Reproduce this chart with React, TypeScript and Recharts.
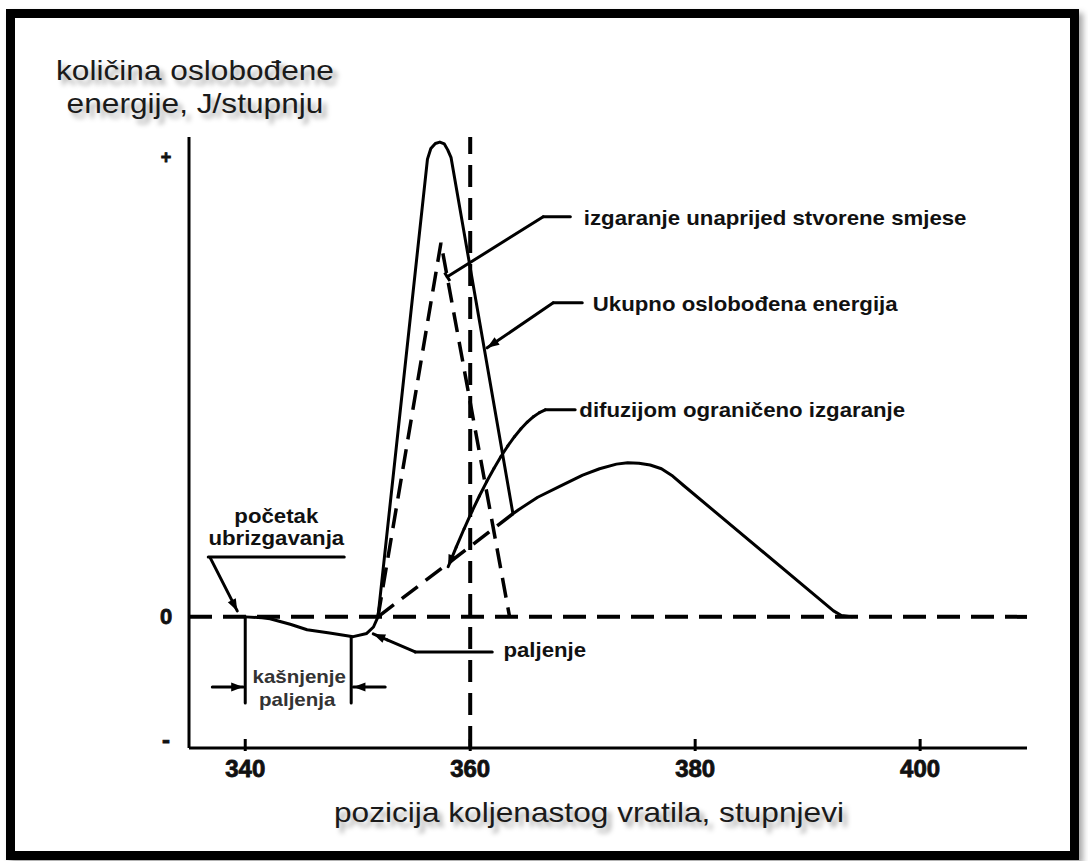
import React from 'react';
import { ComposedChart, Line, XAxis, YAxis, ReferenceLine, ReferenceDot } from 'recharts';

const FONT = '"Liberation Sans", Arial, Helvetica, sans-serif';
// the source picture is stretched sideways a little, so text gets the same stretch
const STRETCH = 1.14;

// crank angle ticks (degrees)
const xTicks = [340, 360, 380, 400];
// the y axis only shows the sign: -, 0, +
const yTicks = [-26.7, 0, 100];
const yTickText = ['-', '0', '+'];

// ukupno oslobođena energija (solid curve)
const totalX = [340, 341.5, 342.2, 344, 345.5, 347.5, 349.6, 350.8, 351.4, 351.8, 356.2, 356.5, 356.9, 357.3, 357.7, 358.0, 358.3, 363.8, 364.3, 366, 368, 370, 371.5, 373, 374, 375, 376, 377, 378, 379, 392.3, 393, 394];
const totalY = [0, -0.2, -0.4, -1.6, -2.8, -3.5, -4.3, -3.6, -2.2, 0, 99.5, 101.8, 102.9, 103.2, 102.8, 101.5, 99.8, 22.4, 23.3, 26.0, 28.4, 30.8, 32.2, 33.2, 33.5, 33.4, 33.0, 32.2, 30.6, 28.5, 1.3, 0.3, 0];

// izgaranje unaprijed stvorene smjese (dashed triangle)
const premixX = [351.8, 357.4, 363.5];
const premixY = [0, 81.3, 0];

// difuzijom ograničeno izgaranje (dashed ramp up to the notch)
const diffX = [351.8, 363.9];
const diffY = [0, 22.6];

const zip = (xs: number[], ys: number[]) => xs.map((x, i) => ({ x, y: ys[i] }));
const totalData = zip(totalX, totalY);
const premixData = zip(premixX, premixY);
const diffData = zip(diffX, diffY);

type Pt = [number, number];

function Leader(props: any) {
  const { x1, y1, x2, y2, end } = props;
  const dx = x2 - x1;
  const dy = y2 - y1;
  const len = Math.hypot(dx, dy) || 1;
  const ux = dx / len;
  const uy = dy / len;
  let head = null;
  if (end === 'arrow') {
    const hl = 12;
    const hw = 4.5;
    const bx = x2 - ux * hl;
    const by = y2 - uy * hl;
    head = (
      <polygon
        points={`${x2},${y2} ${bx - uy * hw},${by + ux * hw} ${bx + uy * hw},${by - ux * hw}`}
        fill="#000"
      />
    );
  } else if (end === 'tee') {
    head = <line x1={x2 - uy * 5} y1={y2 + ux * 5} x2={x2 + uy * 5} y2={y2 - ux * 5} stroke="#000" strokeWidth={3} />;
  }
  return (
    <g>
      <line x1={x1} y1={y1} x2={x2} y2={y2} stroke="#000" strokeWidth={3} strokeLinecap="round" />
      {head}
    </g>
  );
}

// a leader drawn as a polyline; only the last piece gets the end mark
function leader(key: string, pts: Pt[], end?: string) {
  return pts.slice(1).map((p, i) => (
    <ReferenceLine
      key={`${key}-${i}`}
      segment={[{ x: pts[i][0], y: pts[i][1] }, { x: p[0], y: p[1] }]}
      ifOverflow="visible"
      shape={(sp: any) => <Leader {...sp} end={i === pts.length - 2 ? end : undefined} />}
    />
  ));
}

// quadratic curve for a bent leader, split in short pieces
function bend(a: Pt, c: Pt, b: Pt, n = 14): Pt[] {
  const out: Pt[] = [];
  for (let i = 0; i <= n; i++) {
    const t = i / n;
    const u = 1 - t;
    out.push([u * u * a[0] + 2 * u * t * c[0] + t * t * b[0], u * u * a[1] + 2 * u * t * c[1] + t * t * b[1]]);
  }
  return out;
}

function note(key: string, x: number, y: number, text: string, opts: { anchor?: string; size?: number; weight?: number | string; fill?: string } = {}) {
  const { anchor = 'start', size = 19.5, weight = 700, fill = '#111' } = opts;
  return (
    <ReferenceDot
      key={key}
      x={x}
      y={y}
      r={0}
      ifOverflow="visible"
      shape={(p: any) => (
        <text
          transform={`translate(${p.cx},${p.cy}) scale(${STRETCH},1)`}
          textAnchor={anchor as any}
          dominantBaseline="central"
          fontFamily={FONT}
          fontSize={size}
          fontWeight={weight}
          fill={fill}
        >
          {text}
        </text>
      )}
    />
  );
}

const XTick = (props: any) => {
  const { x, y, payload } = props;
  return (
    <g>
      <line x1={x} x2={x} y1={y - 9} y2={y + 3} stroke="#000" strokeWidth={3} />
      <text x={x} y={y + 20} textAnchor="middle" dominantBaseline="central" fontFamily={FONT} fontWeight={700} fontSize={24} fill="#111" stroke="#111" strokeWidth={0.8}>
        {payload.value}
      </text>
    </g>
  );
};

const YTick = (props: any) => {
  const { x, y, payload } = props;
  const idx = yTicks.indexOf(payload.value);
  const label = yTickText[idx];
  const size = label === '+' ? 18 : label === '0' ? 22 : 24;
  return (
    <text x={x - 23} y={y} textAnchor="middle" dominantBaseline="central" fontFamily={FONT} fontWeight={700} fontSize={size} fill="#111" stroke="#111" strokeWidth={0.8}>
      {label}
    </text>
  );
};

const titleStyle: React.CSSProperties = {
  position: 'absolute',
  textAlign: 'center',
  fontFamily: FONT,
  fontSize: 28,
  lineHeight: '33px',
  color: '#1a1a1a',
  textShadow: '4px 5px 5px rgba(0,0,0,0.35)',
  transform: 'scaleX(1.13)',
  transformOrigin: 'center',
  whiteSpace: 'nowrap',
};

export default function App() {
  return (
    <div style={{ position: 'absolute', left: 0, top: 0, width: 1088, height: 861, background: '#fff', overflow: 'hidden' }}>
      <div
        style={{
          position: 'absolute',
          left: 6,
          top: 9,
          width: 1073,
          height: 851,
          border: '9px solid #000',
          boxSizing: 'border-box',
          boxShadow: '4px 4px 6px rgba(0,0,0,0.35)',
        }}
      />
      <div style={{ ...titleStyle, left: 45, top: 54, width: 300 }}>
        količina oslobođene
        <br />
        energije, J/stupnju
      </div>
      <div style={{ ...titleStyle, left: 289, top: 796, width: 600 }}>pozicija koljenastog vratila, stupnjevi</div>

      <div style={{ position: 'absolute', left: 0, top: 0 }}>
        <ComposedChart width={1088} height={861} margin={{ top: 137, right: 61, bottom: 83, left: 149 }}>
          <XAxis
            type="number"
            dataKey="x"
            domain={[335, 409.5]}
            ticks={xTicks}
            interval={0}
            allowDataOverflow
            tick={<XTick />}
            tickLine={false}
            tickSize={0}
            tickMargin={0}
            axisLine={{ stroke: '#000', strokeWidth: 3 }}
            height={30}
          />
          <YAxis
            type="number"
            domain={[-28.5, 104.3]}
            ticks={yTicks}
            interval={0}
            allowDataOverflow
            tick={<YTick />}
            tickLine={false}
            tickSize={0}
            tickMargin={0}
            axisLine={{ stroke: '#000', strokeWidth: 3 }}
            width={40}
          />

          <ReferenceLine y={0} stroke="#000" strokeWidth={4} strokeDasharray="23 11" ifOverflow="visible" />
          <ReferenceLine x={360} stroke="#000" strokeWidth={4} strokeDasharray="22 11" ifOverflow="visible" />

          <Line data={premixData} dataKey="y" type="linear" stroke="#000" strokeWidth={3.5} strokeDasharray="20 10" dot={false} isAnimationActive={false} />
          <Line data={diffData} dataKey="y" type="linear" stroke="#000" strokeWidth={3.5} strokeDasharray="20 10" dot={false} isAnimationActive={false} />
          <Line data={totalData} dataKey="y" type="linear" stroke="#000" strokeWidth={3} strokeLinejoin="round" dot={false} isAnimationActive={false} />

          {/* izgaranje unaprijed stvorene smjese */}
          {leader('pre', [[368.9, 86.96], [366.49, 86.96], [357.96, 73.91]], 'tee')}
          {note('pre-t', 370.1, 86.6, 'izgaranje unaprijed stvorene smjese')}

          {/* ukupno oslobođena energija */}
          {leader('tot', [[369.96, 68.26], [367.38, 68.26], [361.51, 58.48]], 'arrow')}
          {note('tot-t', 370.9, 68.0, 'Ukupno oslobođena energija')}

          {/* difuzijom ograničeno izgaranje */}
          {leader('dif', [[369.33, 45], ...bend([366.67, 45], [363.11, 41.74], [358.04, 10.9])], 'arrow')}
          {note('dif-t', 369.7, 45.0, 'difuzijom ograničeno izgaranje')}

          {/* paljenje */}
          {leader('pal', [[361.96, -7.61], [355.11, -7.61], [352.62, -5.0], [351.38, -3.7]], 'arrow')}
          {note('pal-t', 362.95, -7.2, 'paljenje')}

          {/* početak ubrizgavanja */}
          {leader('poc-u', [[336.71, 13.04], [348.8, 13.04]])}
          {leader('poc', [[336.89, 12.83], [339.29, 1.3]], 'arrow')}
          {note('poc-t1', 342.76, 22.0, 'početak', { anchor: 'middle' })}
          {note('poc-t2', 342.76, 17.1, 'ubrizgavanja', { anchor: 'middle' })}

          {/* kašnjenje paljenja */}
          {leader('kas-l', [[340, 0], [340, -18.7]])}
          {leader('kas-r', [[349.42, -4.35], [349.42, -18.7]])}
          {leader('kas-al', [[337.07, -15.22], [339.82, -15.22]], 'arrow')}
          {leader('kas-ar', [[352.44, -15.22], [349.62, -15.22]], 'arrow')}
          {note('kas-t1', 344.8, -13.0, 'kašnjenje', { anchor: 'middle', size: 18, weight: 700, fill: '#333' })}
          {note('kas-t2', 344.62, -18.0, 'paljenja', { anchor: 'middle', size: 18, weight: 700, fill: '#333' })}
        </ComposedChart>
      </div>
    </div>
  );
}
